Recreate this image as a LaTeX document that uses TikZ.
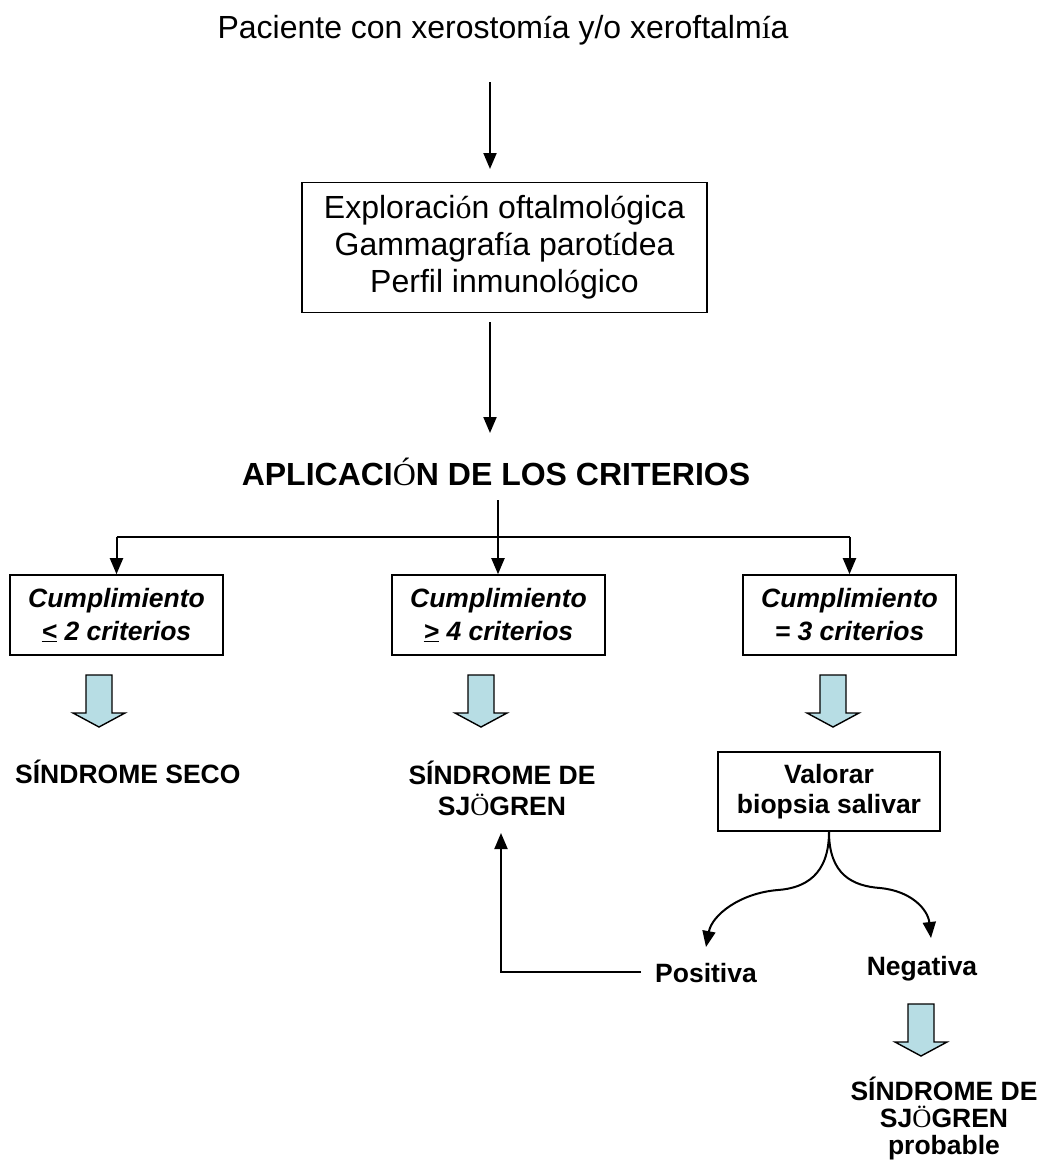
\documentclass[tikz,border=0pt]{standalone}
\usepackage{fontspec}
\setmainfont{Liberation Sans}
\newfontfamily\tnr{Liberation Serif}
\usetikzlibrary{arrows.meta}
\definecolor{arrowfill}{RGB}{183,221,228}
\tikzset{
  big/.style={font=\fontsize{32}{36.8}\selectfont},
  small/.style={font=\fontsize{26.5}{30.5}\selectfont\bfseries},
  boxed/.style={draw, line width=1.6pt, inner sep=0pt, align=center},
  conn/.style={line width=2pt, -{Triangle[length=16pt,width=13pt]}},
  plain/.style={line width=2pt},
  hollow/.pic={\draw[fill=arrowfill, line width=1.4pt, line join=miter]
     (-13,0) -- (13,0) -- (13,38) -- (26,38) -- (0,52) -- (-26,38) -- (-13,38) -- cycle;}
}
\begin{document}
\begin{tikzpicture}[x=1pt,y=-1pt]
\useasboundingbox (0,0) rectangle (1043,1168);
% title
\node[big] (pac) at (503,30) {Paciente con xerostom{\tnr í}a y/o xeroftalm{\tnr í}a};
\coordinate (a1s) at (490,82);
\coordinate (a1e) at (490,169);
% box 1
\node[boxed, big, minimum width=405pt, minimum height=130pt] (exp) at (504.5,247.5)
  {Exploraci{\tnr ó}n oftalmol{\tnr ó}gica\\Gammagraf{\tnr í}a parot{\tnr í}dea\\Perfil inmunol{\tnr ó}gico};
\draw[conn] (a1s) -- (a1e);
\coordinate (a2s) at (490,322);
\coordinate (a2e) at (490,433);
\draw[conn] (a2s) -- (a2e);
% heading
\node[big, font=\fontsize{32}{36.8}\selectfont\bfseries] (crit) at (496,472) {APLICACI{\tnr\mdseries Ó}N DE LOS CRITERIOS};
\coordinate (jt) at (498,500);
\coordinate (j) at (498,537);
% boxes
\node[boxed, small, font=\fontsize{26.5}{33}\selectfont\bfseries\itshape, minimum width=213pt, minimum height=80pt] (c1) at (116.5,615)
  {Cumplimiento\\\underline{<} 2 criterios};
\node[boxed, small, font=\fontsize{26.5}{33}\selectfont\bfseries\itshape, minimum width=213pt, minimum height=80pt] (c2) at (498.5,615)
  {Cumplimiento\\\underline{>} 4 criterios};
\node[boxed, small, font=\fontsize{26.5}{33}\selectfont\bfseries\itshape, minimum width=213pt, minimum height=80pt] (c3) at (849.5,615)
  {Cumplimiento\\= 3 criterios};
\coordinate (hl) at (116.5,537);
\coordinate (hr) at (849.5,537);
\draw[plain] (jt) -- (j);
\draw[plain] (hl) -- (hr);
\draw[conn] (hl) -- (c1.north);
\draw[conn] (j) -- (j |- c2.north);
\draw[conn] (hr) -- (c3.north);
% hollow arrows
\pic at (99,675) {hollow};
\pic at (481,675) {hollow};
\pic at (833,675) {hollow};
% results
\node[small, anchor=base west, inner sep=0pt] (seco) at (15,783) {SÍNDROME SECO};
\node[small, align=center, font=\fontsize{26.5}{31}\selectfont\bfseries, anchor=base, inner sep=0pt] (sj) at (502,815) {SÍNDROME DE\\SJ{\tnr\mdseries Ö}GREN};
\node[boxed, small, minimum width=222pt, minimum height=79pt] (val) at (829,791.5) {Valorar\\biopsia salivar};
\node[small, anchor=base, inner sep=0pt] (pos) at (706,982) {Positiva};
\node[small, anchor=base, inner sep=0pt] (neg) at (922,975) {Negativa};
\coordinate (pc) at (501,972);
\coordinate (pe) at (641,972);
\coordinate (pt) at (501,833);
\draw[conn] (pe) -- (pc) -- (pt);
% curves
\draw[conn] (val.south) .. controls (829,875) and (805,888) .. (778,890)
   .. controls (740,893) and (712,915) .. (706,947);
\draw[conn] (val.south) .. controls (829,875) and (853,886) .. (880,888)
   .. controls (912,891) and (928,910) .. (931,938);
\pic at (921,1004) {hollow};
\node[small, align=center, font=\fontsize{26.5}{27}\selectfont\bfseries, anchor=base, inner sep=0pt] (prob) at (944,1154)
  {SÍNDROME DE\\SJ{\tnr\mdseries Ö}GREN\\probable};
\end{tikzpicture}
\end{document}
